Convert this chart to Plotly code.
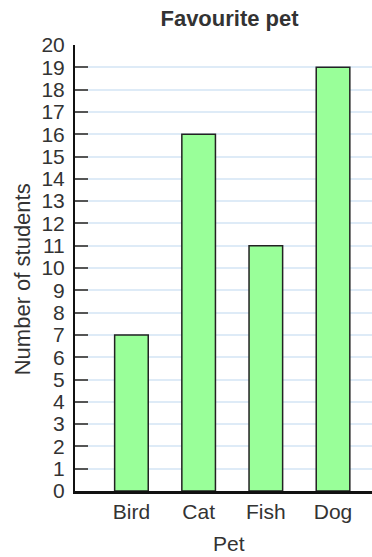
import plotly.graph_objects as go

pets = ["Bird", "Cat", "Fish", "Dog"]
students = [7, 16, 11, 19]
y_ticks = list(range(0, 21))

font_family = "Liberation Sans, Arial, sans-serif"
text_color = "#333333"

fig = go.Figure(
    go.Bar(
        x=pets,
        y=students,
        marker=dict(color="#99ff99", line=dict(color="#222222", width=1.5)),
        width=0.5,
    )
)

fig.update_layout(
    width=372,
    height=557,
    margin=dict(l=75, r=0, t=45, b=66),
    paper_bgcolor="white",
    plot_bgcolor="white",
    showlegend=False,
    font=dict(family=font_family, size=21, color=text_color),
    title=dict(
        text="<b>Favourite pet</b>",
        x=0.617,
        xanchor="center",
        y=0.968,
        yanchor="middle",
        font=dict(size=22, color=text_color),
    ),
)

fig.update_xaxes(
    range=[-0.84, 3.58],
    showline=True,
    linecolor="#111111",
    linewidth=2.5,
    ticks="",
    showgrid=False,
    tickfont=dict(size=21),
)

fig.update_yaxes(
    range=[0, 20],
    tickvals=y_ticks,
    ticktext=[str(v) for v in y_ticks],
    showline=True,
    linecolor="#111111",
    linewidth=2,
    ticks="inside",
    ticklen=13,
    tickwidth=2,
    tickcolor="#555555",
    showgrid=True,
    gridcolor="#deebf7",
    gridwidth=1.5,
    zeroline=False,
    tickfont=dict(size=21),
    ticklabelstandoff=4,
)

# Axis titles placed as annotations so they sit slightly off the plot centre
fig.add_annotation(
    text="Pet",
    xref="paper", yref="paper",
    x=0.5185, y=-0.1166,
    xanchor="center", yanchor="middle",
    showarrow=False,
    font=dict(size=21, color=text_color),
)
fig.add_annotation(
    text="Number of students",
    xref="paper", yref="paper",
    x=-0.178, y=0.475,
    xanchor="center", yanchor="middle",
    textangle=-90,
    showarrow=False,
    font=dict(size=22, color=text_color),
)

fig.write_html("out.html")
